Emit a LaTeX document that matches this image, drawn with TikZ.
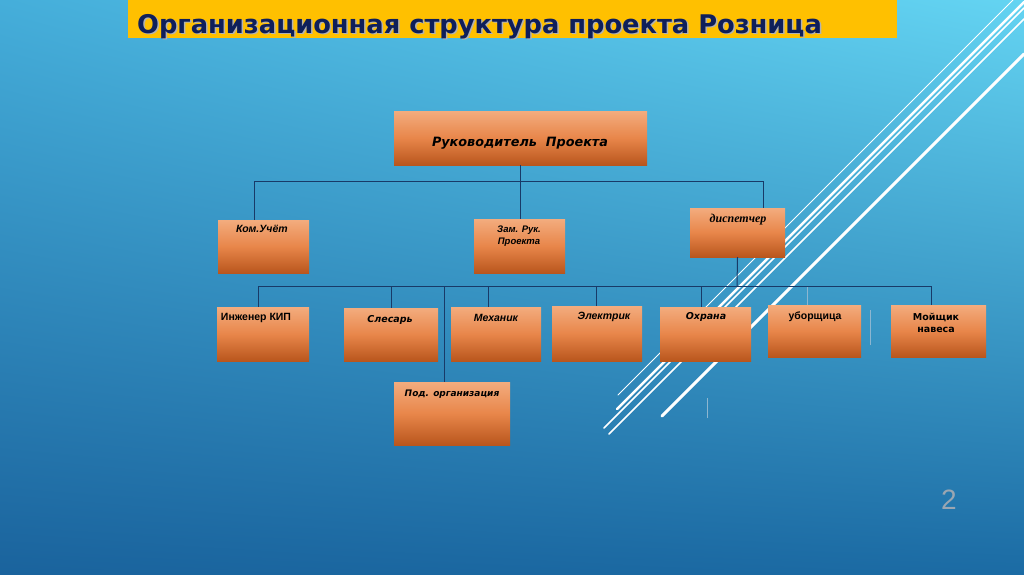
\documentclass[tikz,border=0pt]{standalone}
\usepackage{fontspec}
\setmainfont{Liberation Sans}
\newfontfamily\titlefont{DejaVu Sans}
\newfontfamily\gothfont{DejaVu Sans}
\newfontfamily\serffont{Liberation Serif}
\usetikzlibrary{calc,shadings}
\definecolor{bgUL}{HTML}{45AEDA}
\definecolor{bgUR}{HTML}{64D4F2}
\definecolor{bgLL}{HTML}{1A639D}
\definecolor{bgLR}{HTML}{1B6BA4}
\definecolor{ttlyellow}{HTML}{FFC000}
\definecolor{ttlnavy}{HTML}{0F1F5A}
\definecolor{boxA}{HTML}{F3AC7E}
\definecolor{boxB}{HTML}{E8864A}
\definecolor{boxC}{HTML}{B9561D}
\definecolor{conncol}{HTML}{183A68}
\definecolor{faint}{HTML}{8DB6D0}
\definecolor{pagenum}{HTML}{9AA6B2}
\tikzset{
  orgbox/.style={rectangle, inner sep=0pt, draw=none, top color=boxA, bottom color=boxC, middle color=boxB},
  lblA/.style={font=\fontsize{10.5}{12}\selectfont\bfseries\itshape, text=black, inner sep=0pt, align=center},
  lblU/.style={font=\fontsize{10.5}{12}\selectfont\bfseries, text=black, inner sep=0pt, align=center},
  lblG/.style={font=\gothfont\fontsize{9.5}{12}\selectfont\bfseries\itshape, text=black, inner sep=0pt, align=center},
  conn/.style={draw=conncol, line width=1pt},
  wline/.style={draw=white, line cap=round},
}
\begin{document}
\begin{tikzpicture}[x=1pt,y=-1pt]
% background
\shade[upper left=bgUL, upper right=bgUR, lower left=bgLL, lower right=bgLR] (0,0) rectangle (1024,574);
\useasboundingbox (0,0) rectangle (1024,574);
% title band
\fill[ttlyellow] (128,0) rectangle (897,38);
\node[font=\titlefont\fontsize{25.7}{28}\selectfont\bfseries, text=black!30, anchor=base west, inner sep=0pt] (ttlshadow) at (138.5,34.5) {Организационная структура проекта Розница};
\node[font=\titlefont\fontsize{25.7}{28}\selectfont\bfseries, text=ttlnavy, anchor=base west, inner sep=0pt] (ttl) at (137,33) {Организационная структура проекта Розница};
% decorative white lines (x+y=c)
\draw[wline, line width=1pt] (1013-395,395) -- (1013,0);
\draw[wline, line width=2.5pt] (1026-409,409) -- (1024,2);
\draw[wline, line width=1.5pt] (1032-428,428) -- (1024,8);
\draw[wline, line width=1.5pt] (1043-434,434) -- (1024,19);
\draw[wline, line width=3pt] (1078-416,416) -- (1024,54);
% boxes
\node[orgbox, minimum width=253pt, minimum height=54pt] (ruk) at (520.5,138) {};
\node[orgbox, minimum width=91pt, minimum height=53pt] (kom) at (263.5,246.5) {};
\node[orgbox, minimum width=91pt, minimum height=54pt] (zam) at (519.5,246) {};
\node[orgbox, minimum width=95pt, minimum height=49pt] (disp) at (737.5,232.5) {};
\node[orgbox, minimum width=92pt, minimum height=54pt] (ing) at (263,334) {};
\node[orgbox, minimum width=94pt, minimum height=53pt] (sles) at (391,334.5) {};
\node[orgbox, minimum width=90pt, minimum height=54pt] (mech) at (496,334) {};
\node[orgbox, minimum width=90pt, minimum height=55pt] (elek) at (597,333.5) {};
\node[orgbox, minimum width=91pt, minimum height=54pt] (ohr) at (705.5,334) {};
\node[orgbox, minimum width=93pt, minimum height=52pt] (ubor) at (814.5,331) {};
\node[orgbox, minimum width=95pt, minimum height=52pt] (moy) at (938.5,331) {};
\node[orgbox, minimum width=116pt, minimum height=63pt] (pod) at (452,413.5) {};
% connectors level 1
\coordinate (b1L) at (254,181);
\coordinate (b1R) at (763,181);
\draw[conn] (ruk.south) -- (ruk.south |- zam.north);
\draw[conn] (b1L) -- (b1R);
\draw[conn] (b1L) -- (b1L |- kom.north);
\draw[conn] (b1R) -- (b1R |- disp.north);
% connectors level 2
\coordinate (b2L) at (258,286);
\coordinate (b2R) at (931,286);
\coordinate (dspdrop) at (737,286);
\draw[conn] (disp.south) -- (dspdrop);
\draw[conn] (b2L) -- (b2R);
\draw[conn] (b2L) -- (b2L |- ing.north);
\coordinate (dsl) at (391,286);
\draw[conn] (dsl) -- (dsl |- sles.north);
\coordinate (dpod) at (444,286);
\draw[conn] (dpod) -- (dpod |- pod.north);
\coordinate (dmech) at (488,286);
\draw[conn] (dmech) -- (dmech |- mech.north);
\coordinate (delek) at (596,286);
\draw[conn] (delek) -- (delek |- elek.north);
\coordinate (dohr) at (701,286);
\draw[conn] (dohr) -- (dohr |- ohr.north);
\coordinate (dubor) at (807,287);
\draw[draw=faint, line width=1pt] (dubor) -- (dubor |- ubor.north);
\draw[conn] (b2R) -- (b2R |- moy.north);
% faint marks
\draw[draw=faint, line width=1pt] (870,310) -- (870,345);
\draw[draw=faint, line width=1pt] (707,398) -- (707,418);
% labels
\node[lblG, font=\gothfont\fontsize{12.8}{14}\selectfont\bfseries\itshape] (ruk-t) at (520,143) {Руководитель\ \ Проекта};
\node[lblA] (kom-t) at (262,229) {Ком.Учёт};
\node[lblA, font=\fontsize{9.5}{12.5}\selectfont\bfseries\itshape] (zam-t) at (519,236) {Зам. Рук.\\Проекта};
\node[font=\serffont\fontsize{12}{14}\selectfont\bfseries\itshape, inner sep=0pt] (disp-t) at (738,220) {диспетчер};
\node[lblU] (ing-t) at (256,318) {Инженер КИП};
\node[lblG] (sles-t) at (390,320) {Слесарь};
\node[lblA] (mech-t) at (496,318) {Механик};
\node[lblA] (elek-t) at (604,317) {Электрик};
\node[lblG] (ohr-t) at (706,317) {Охрана};
\node[lblU] (ubor-t) at (815,317) {уборщица};
\node[lblG, font=\gothfont\fontsize{9.5}{12.5}\selectfont\bfseries] (moy-t) at (936,323) {Мойщик\\навеса};
\node[lblG, font=\gothfont\fontsize{9}{12}\selectfont\bfseries\itshape] (pod-t) at (452,394) {Под. организация};
% page number
\node[font=\fontsize{28}{30}\selectfont, text=pagenum, inner sep=0pt] (pg) at (949,500) {2};
\end{tikzpicture}
\end{document}
